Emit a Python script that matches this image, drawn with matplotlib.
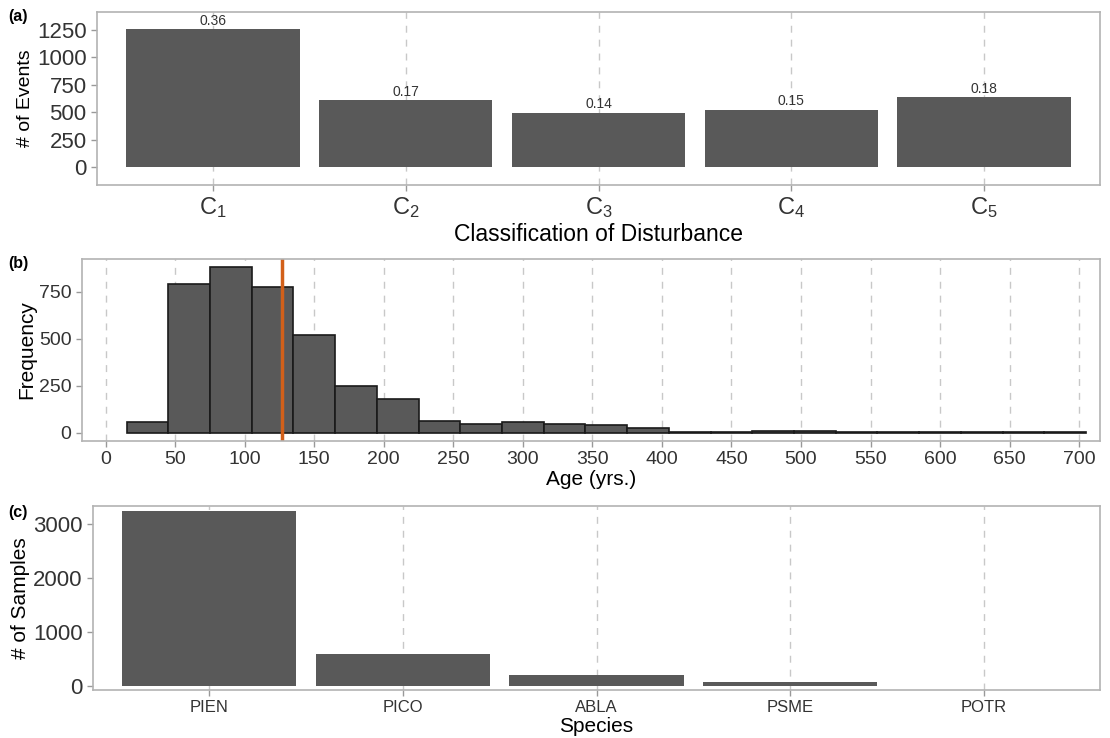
import numpy as np
import matplotlib
matplotlib.use("Agg")
import matplotlib.pyplot as plt

plt.rcParams['font.family'] = ['Liberation Sans', 'DejaVu Sans']
plt.rcParams['mathtext.fontset'] = 'custom'
plt.rcParams['mathtext.rm'] = 'Liberation Sans'
plt.rcParams['mathtext.it'] = 'Liberation Sans'

# (a) disturbance classes
classes = ['C$_1$', 'C$_2$', 'C$_3$', 'C$_4$', 'C$_5$']
events = [1255, 610, 495, 522, 640]
props = ['0.36', '0.17', '0.14', '0.15', '0.18']

# (b) age histogram (bin width 30, first edge 15)
age_edges = np.arange(15, 706, 30)
age_counts = [55, 790, 880, 775, 520, 250, 180, 60, 45, 55, 45, 40, 25,
              3, 3, 6, 8, 2, 4, 2, 1, 1, 3]
median_age = 127

# (c) species
species = ['PIEN', 'PICO', 'ABLA', 'PSME', 'POTR']
samples = [3240, 590, 200, 80, 5]

BAR = '#595959'
FRAME = '#b3b3b3'
GRID = '#c8c8c8'


def style(ax):
    for s in ax.spines.values():
        s.set_color(FRAME)
        s.set_linewidth(1.2)
    ax.tick_params(colors='#333333', length=4, width=1, color='#999999')
    ax.xaxis.grid(True, linestyle=(0, (5, 5)), color=GRID, linewidth=1)
    ax.yaxis.grid(False)
    ax.set_axisbelow(True)


fig = plt.figure(figsize=(11.1, 7.38), dpi=100)
W, H = 1110, 738


def add_ax(l, t, r, b):
    return fig.add_axes([l / W, 1 - b / H, (r - l) / W, (b - t) / H])


# panel a
ax1 = add_ax(97, 12, 1100, 185)
x = np.arange(len(classes))
ax1.bar(x, events, width=0.9, color=BAR)
for xi, v, p in zip(x, events, props):
    ax1.text(xi, v + 12, p, ha='center', va='bottom', fontsize=10, color='#333333')
ax1.set_xlim(-0.6, 4.6)
ax1.set_ylim(-164, 1414)
ax1.set_yticks([0, 250, 500, 750, 1000, 1250])
ax1.set_xticks(x)
ax1.set_xticklabels(classes, fontsize=17)
ax1.tick_params(axis='y', labelsize=16)
ax1.set_ylabel('# of Events', fontsize=14, labelpad=2)
ax1.set_xlabel('Classification of Disturbance', fontsize=16.5, labelpad=2)
style(ax1)

# panel b
ax2 = add_ax(82, 259, 1100, 441)
ax2.hist(age_edges[:-1], bins=age_edges, weights=age_counts, color=BAR,
         edgecolor='#1a1a1a', linewidth=1.2)
ax2.axvline(median_age, color='#D2601A', linewidth=2.5)
ax2.set_xlim(-17, 715)
ax2.set_ylim(-45, 925)
ax2.set_xticks(np.arange(0, 701, 50))
ax2.set_yticks([0, 250, 500, 750])
ax2.tick_params(axis='both', labelsize=14)
ax2.set_ylabel('Frequency', fontsize=15, labelpad=2)
ax2.set_xlabel('Age (yrs.)', fontsize=15, labelpad=1)
style(ax2)

# panel c
ax3 = add_ax(93, 506, 1100, 690)
xs = np.arange(len(species))
ax3.bar(xs, samples, width=0.9, color=BAR)
ax3.set_xlim(-0.6, 4.6)
ax3.set_ylim(-70, 3330)
ax3.set_yticks([0, 1000, 2000, 3000])
ax3.set_xticks(xs)
ax3.set_xticklabels(species, fontsize=12)
ax3.tick_params(axis='y', labelsize=16)
ax3.set_ylabel('# of Samples', fontsize=15, labelpad=2)
ax3.set_xlabel('Species', fontsize=15, labelpad=1)
style(ax3)

fig.text(8 / W, 1 - 17 / H, '(a)', fontsize=11.5, fontweight='bold', va='center')
fig.text(8 / W, 1 - 264 / H, '(b)', fontsize=11.5, fontweight='bold', va='center')
fig.text(8 / W, 1 - 512 / H, '(c)', fontsize=11.5, fontweight='bold', va='center')

fig.savefig('out.png', dpi=100, facecolor='white')
